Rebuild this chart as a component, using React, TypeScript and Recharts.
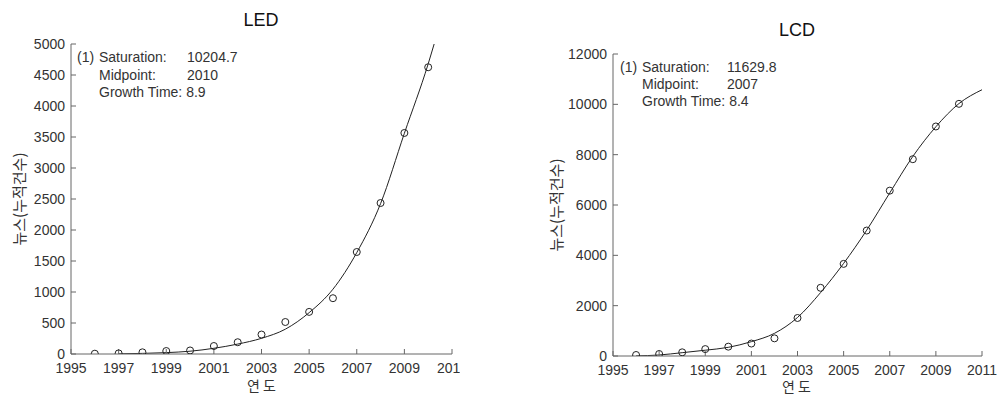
import { ComposedChart, Line, Scatter, XAxis, YAxis } from 'recharts';

// observed news counts (cumulative), one per year
const YEARS = [1996, 1997, 1998, 1999, 2000, 2001, 2002, 2003, 2004, 2005, 2006, 2007, 2008, 2009, 2010];
const LED_NEWS = [5, 10, 27, 48, 57, 129, 190, 314, 516, 679, 900, 1645, 2435, 3565, 4625];
const LCD_NEWS = [40, 80, 146, 275, 371, 495, 702, 1510, 2710, 3660, 4985, 6570, 7820, 9120, 10020];

// fitted logistic curves
const LED_FIT_YEARS = [1997, 1998, 1999, 2000, 2001, 2002, 2003, 2004, 2005, 2006, 2007, 2008, 2009, 2010, 2010.25];
const LED_FIT = [3, 10, 22, 45, 92, 160, 253, 400, 667, 1045, 1635, 2425, 3560, 4680, 5000];
const LCD_FIT_YEARS = [1996, 1997, 1998, 1999, 2000, 2001, 2002, 2003, 2004, 2005, 2006, 2007, 2008, 2009, 2010, 2011];
const LCD_FIT = [5, 40, 132, 230, 344, 570, 900, 1530, 2520, 3680, 5000, 6480, 7930, 9110, 10030, 10580];

const X_TICKS = [1995, 1997, 1999, 2001, 2003, 2005, 2007, 2009, 2011];
const LED_Y_TICKS = [0, 500, 1000, 1500, 2000, 2500, 3000, 3500, 4000, 4500, 5000];
const LCD_Y_TICKS = [0, 2000, 4000, 6000, 8000, 10000, 12000];

const FONT = "'Liberation Sans', Arial, sans-serif";
const KFONT = "'Noto Sans CJK KR', 'Liberation Sans', sans-serif";
const INK = '#333';
const FRAME = '#666';

const tickStyle = { fill: INK, fontSize: 14, fontFamily: FONT };
const noTick = () => <g />;

function OpenDot(props: any) {
  const { cx, cy } = props;
  if (cx == null || cy == null) return null;
  return <circle cx={cx} cy={cy} r={3.5} fill="none" stroke="#222" strokeWidth={1} />;
}

interface PanelProps {
  left: number;
  width: number;
  top: number;
  right: number;
  yWidth: number;
  xHeight: number;
  yMax: number;
  yTicks: number[];
  news: number[];
  fitYears: number[];
  fit: number[];
}

function Panel({ left, width, top, right, yWidth, xHeight, yMax, yTicks, news, fitYears, fit }: PanelProps) {
  const points = YEARS.map((year, i) => ({ year, value: news[i] }));
  const curve = fitYears.map((year, i) => ({ year, value: fit[i] }));
  return (
    <div style={{ position: 'absolute', left, top: 0, width, height: 394, overflow: 'hidden' }}>
      <ComposedChart width={width} height={394} margin={{ top, right, bottom: 0, left: 0 }} style={{ fontFamily: FONT }}>
        <XAxis type="number" dataKey="year" domain={[1995, 2011]} ticks={X_TICKS} interval={0} allowDataOverflow
          height={xHeight} tickSize={-5} tickMargin={14} tick={tickStyle} stroke={FRAME} />
        <XAxis xAxisId="top" orientation="top" type="number" domain={[1995, 2011]} ticks={X_TICKS} interval={0}
          allowDataOverflow height={0} tickSize={-5} tick={noTick} stroke={FRAME} />
        <YAxis type="number" dataKey="value" domain={[0, yMax]} ticks={yTicks} interval={0} allowDataOverflow
          width={yWidth} tickSize={-5} tickMargin={11} tick={tickStyle} stroke={FRAME} />
        <YAxis yAxisId="right" orientation="right" type="number" domain={[0, yMax]} ticks={yTicks} interval={0}
          allowDataOverflow width={0} tickSize={-5} tick={noTick} stroke={FRAME} />
        <Line data={curve} dataKey="value" type="monotone" stroke="#222" strokeWidth={1} dot={false}
          isAnimationActive={false} />
        <Scatter data={points} dataKey="value" shape={OpenDot} isAnimationActive={false} />
      </ComposedChart>
    </div>
  );
}

function Txt({ x, y, children, size = 14 }: { x: number; y: number; children: any; size?: number }) {
  // y is the baseline
  return (
    <div style={{ position: 'absolute', left: x, top: y - size * 0.9, fontSize: size, lineHeight: `${size}px`,
      fontFamily: FONT, color: INK, whiteSpace: 'nowrap' }}>
      {children}
    </div>
  );
}

function Title({ cx, y, children }: { cx: number; y: number; children: any }) {
  return (
    <div style={{ position: 'absolute', left: cx - 50, width: 100, textAlign: 'center', top: y - 16, fontSize: 18,
      lineHeight: '18px', fontFamily: FONT, color: '#111' }}>
      {children}
    </div>
  );
}

function YLabel({ cx, cy }: { cx: number; cy: number }) {
  return (
    <div style={{ position: 'absolute', left: cx, top: cy, transform: 'translate(-50%, -50%) rotate(-90deg)',
      fontSize: 15, fontFamily: KFONT, color: INK, whiteSpace: 'nowrap' }}>
      뉴스(누적건수)
    </div>
  );
}

function XLabel({ cx, cy }: { cx: number; cy: number }) {
  return (
    <div style={{ position: 'absolute', left: cx, top: cy, transform: 'translate(-50%, -50%)', fontSize: 14,
      fontFamily: KFONT, color: INK, whiteSpace: 'nowrap', letterSpacing: 3 }}>
      연도
    </div>
  );
}

export default function App() {
  return (
    <div style={{ position: 'absolute', left: 0, top: 0, width: 997, height: 394, background: '#fff', overflow: 'hidden' }}>
      <Panel left={0} width={460} top={44} right={8} yWidth={71} xHeight={40} yMax={5000} yTicks={LED_Y_TICKS}
        news={LED_NEWS} fitYears={LED_FIT_YEARS} fit={LED_FIT} />
      <Panel left={530} width={467} top={54} right={15} yWidth={83} xHeight={38} yMax={12000} yTicks={LCD_Y_TICKS}
        news={LCD_NEWS} fitYears={LCD_FIT_YEARS} fit={LCD_FIT} />

      <Title cx={261} y={27}>LED</Title>
      <Title cx={797} y={37}>LCD</Title>

      <YLabel cx={18} cy={199} />
      <YLabel cx={555} cy={205} />
      <XLabel cx={263} cy={385} />
      <XLabel cx={798} cy={386} />

      <Txt x={77} y={63}>(1)</Txt>
      <Txt x={99} y={63}>Saturation:</Txt>
      <Txt x={187} y={63}>10204.7</Txt>
      <Txt x={99} y={81}>Midpoint:</Txt>
      <Txt x={187} y={81}>2010</Txt>
      <Txt x={99} y={98}>Growth Time: 8.9</Txt>

      <Txt x={620} y={73}>(1)</Txt>
      <Txt x={642} y={73}>Saturation:</Txt>
      <Txt x={727} y={73}>11629.8</Txt>
      <Txt x={642} y={90}>Midpoint:</Txt>
      <Txt x={727} y={90}>2007</Txt>
      <Txt x={642} y={107}>Growth Time: 8.4</Txt>
    </div>
  );
}
